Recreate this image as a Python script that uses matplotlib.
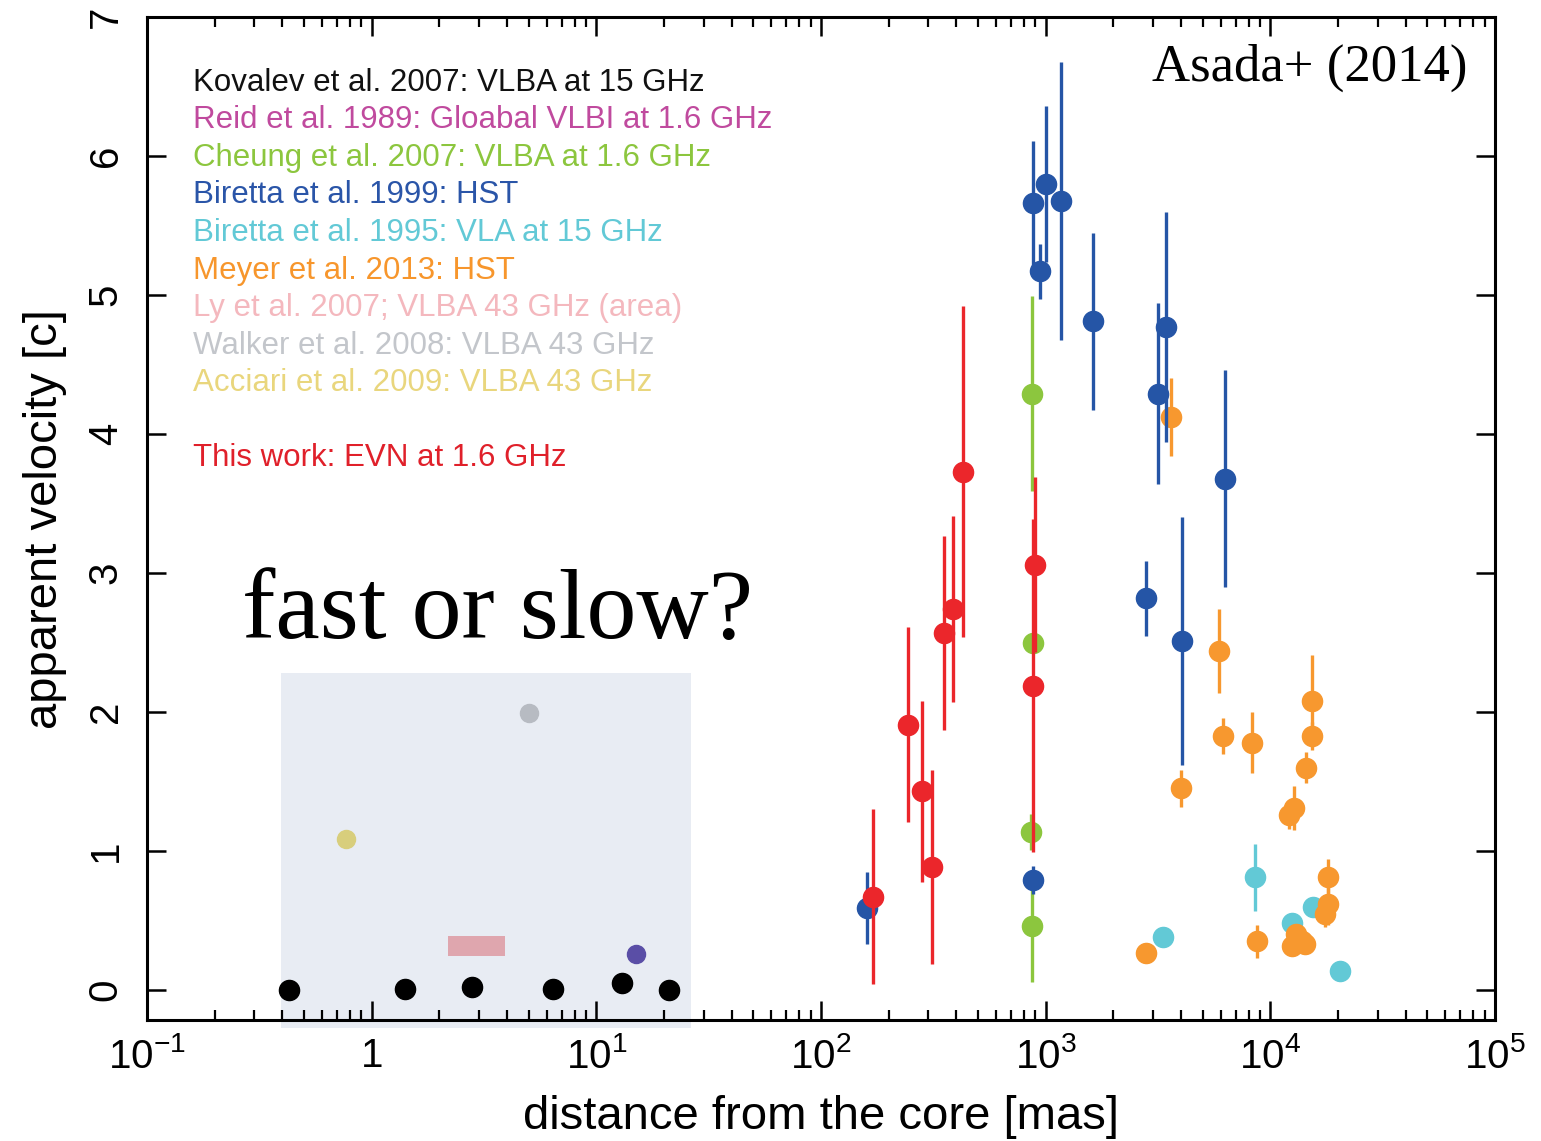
import matplotlib
matplotlib.use("Agg")
import matplotlib.pyplot as plt
from matplotlib.patches import Rectangle
from matplotlib.ticker import FixedLocator, FixedFormatter, LogLocator, NullFormatter

plt.rcParams['font.family'] = ['Liberation Sans', 'DejaVu Sans']
plt.rcParams['mathtext.default'] = 'regular'

# ---------------- data ----------------
# Kovalev et al. 2007 (VLBA 15 GHz)
kov_x = [0.43, 1.40, 2.79, 6.4, 13.0, 21.0]
kov_y = [0.00, 0.01, 0.02, 0.01, 0.05, 0.00]

# Reid et al. 1989
reid_x = [15.0]
reid_y = [0.26]
reid_err = [0.06]

# Walker et al. 2008
walker_x = [5.0]
walker_y = [1.99]

# Acciari et al. 2009
acciari_x = [0.77]
acciari_y = [1.09]

# Ly et al. 2007 (area): x range, y range
ly_x = [2.18, 3.91]
ly_y = [0.245, 0.39]

# Cheung et al. 2007 (VLBA 1.6 GHz)
cheung_x = [865, 880, 860, 870]
cheung_y = [4.29, 2.50, 1.14, 0.46]
cheung_err = [0.70, 0.05, 0.13, 0.40]

# Biretta et al. 1999 (HST)
b99_x = [160, 875, 1000, 1165, 940, 1617, 3420, 3150, 2785, 4025, 6310, 875]
b99_y = [0.59, 5.66, 5.80, 5.68, 5.17, 4.81, 4.77, 4.29, 2.82, 2.51, 3.68, 0.79]
b99_err = [0.26, 0.45, 0.56, 1.00, 0.20, 0.64, 0.83, 0.65, 0.27, 0.89, 0.78, 0.10]

# Biretta et al. 1995 (VLA 15 GHz)
b95_x = [3310, 8510, 12420, 15400, 20500]
b95_y = [0.38, 0.81, 0.48, 0.60, 0.14]
b95_err = [0.07, 0.24, 0.0, 0.0, 0.0]

# Meyer et al. 2013 (HST)
meyer_x = [3600, 5890, 4000, 6150, 8250, 15250, 15250, 14350, 12680, 12050,
           17960, 17960, 17500, 8690, 12500, 13000, 13800, 14200, 2785]
meyer_y = [4.12, 2.44, 1.45, 1.83, 1.78, 2.08, 1.83, 1.60, 1.31, 1.26,
           0.81, 0.62, 0.55, 0.35, 0.32, 0.40, 0.35, 0.33, 0.27]
meyer_err = [0.28, 0.30, 0.13, 0.13, 0.22, 0.33, 0.10, 0.11, 0.16, 0.10,
             0.13, 0.15, 0.10, 0.12, 0.05, 0.05, 0.05, 0.05, 0.0]

# This work: EVN at 1.6 GHz
evn_x = [171, 245, 280, 311, 351, 385, 427, 893, 880]
evn_y = [0.67, 1.91, 1.43, 0.885, 2.57, 2.74, 3.73, 3.06, 2.19]
evn_err = [0.63, 0.70, 0.65, 0.70, 0.70, 0.67, 1.19, 0.63, 1.20]

# shaded region
shade_x = [0.394, 26.3]
shade_y = [-0.27, 2.28]

legend_texts = [
    "Kovalev et al. 2007: VLBA at 15 GHz",
    "Reid et al. 1989: Gloabal VLBI at 1.6 GHz",
    "Cheung et al. 2007: VLBA at 1.6 GHz",
    "Biretta et al. 1999: HST",
    "Biretta et al. 1995: VLA at 15 GHz",
    "Meyer et al. 2013: HST",
    "Ly et al. 2007; VLBA 43 GHz (area)",
    "Walker et al. 2008: VLBA 43 GHz",
    "Acciari et al. 2009: VLBA 43 GHz",
]
legend_colors = ["#111111", "#c04a9e", "#8cc63e", "#2a55a8", "#62c9d6",
                 "#f7962c", "#f4b8be", "#c3c6cb", "#e9d67d"]

x_ticks = [0.1, 1, 10, 100, 1000, 10000, 100000]
x_ticklabels = ["$10^{-1}$", "1", "$10^{1}$", "$10^{2}$", "$10^{3}$", "$10^{4}$", "$10^{5}$"]
y_ticks = [0, 1, 2, 3, 4, 5, 6, 7]

# ---------------- figure ----------------
fig = plt.figure(figsize=(15.41, 11.41), dpi=100)
ax = fig.add_axes([0.0954, 0.106, 0.8748, 0.879])
ax.set_xscale('log')
ax.set_xlim(0.1, 1e5)
ax.set_ylim(-0.216, 7)

# shaded region
ax.add_patch(Rectangle((shade_x[0], shade_y[0]), shade_x[1] - shade_x[0],
                       shade_y[1] - shade_y[0], facecolor="#e8ecf3",
                       edgecolor="none", zorder=0.5, clip_on=False))

# Ly area
ax.add_patch(Rectangle((ly_x[0], ly_y[0]), ly_x[1] - ly_x[0], ly_y[1] - ly_y[0],
                       facecolor="#dfa6ae", edgecolor="none", zorder=2))

ms = 14.5
elw = 2.4

def series(x, y, err, color, z=3, size=ms):
    ax.errorbar(x, y, yerr=err, fmt='o', color=color, ecolor=color, ms=size,
                mec=color, elinewidth=elw, capsize=0, zorder=z)

ax.plot(kov_x, kov_y, 'o', color="#000000", ms=ms, zorder=3)
series(reid_x, reid_y, reid_err, "#5a4ea6", size=13)
ax.plot(walker_x, walker_y, 'o', color="#b7bbc2", ms=13, zorder=3)
ax.plot(acciari_x, acciari_y, 'o', color="#d8ce7c", ms=13, zorder=3)
series(cheung_x, cheung_y, cheung_err, "#8cc63e", z=3)
series(b95_x, b95_y, b95_err, "#62c9d6", z=3)
series(meyer_x, meyer_y, meyer_err, "#f7982f", z=3)
series(b99_x, b99_y, b99_err, "#2555a6", z=4)
series(evn_x, evn_y, evn_err, "#eb262b", z=5)

# axes styling
for sp in ax.spines.values():
    sp.set_linewidth(2.2)
    sp.set_zorder(6)

ax.xaxis.set_major_locator(FixedLocator(x_ticks))
ax.xaxis.set_major_formatter(FixedFormatter(x_ticklabels))
ax.xaxis.set_minor_locator(LogLocator(base=10, subs=range(2, 10), numticks=20))
ax.xaxis.set_minor_formatter(NullFormatter())
ax.set_yticks(y_ticks)
ax.tick_params(axis='x', which='major', direction='in', length=14, width=1.8,
               top=True, labelsize=29, pad=12)
ax.tick_params(axis='x', which='minor', direction='in', length=7, width=1.6,
               top=True)
ax.tick_params(axis='y', which='major', direction='in', length=14, width=1.8,
               right=True, labelsize=29, pad=16)
for lab in ax.get_yticklabels():
    lab.set_rotation(90)
    lab.set_va('center')

ax.set_xlabel("distance from the core [mas]", fontsize=34, labelpad=14)
ax.set_ylabel("apparent velocity [c]", fontsize=34, labelpad=14)

# legend text block
x0 = 193 / 1541
for i, (t, c) in enumerate(zip(legend_texts, legend_colors)):
    fig.text(x0, 1 - (83 + 37.5 * i) / 1141, t, color=c, fontsize=22.5,
             va='center', ha='left')
fig.text(x0, 1 - 458 / 1141, "This work: EVN at 1.6 GHz", color="#e0202a",
         fontsize=22.5, va='center', ha='left')

# annotations
fig.text(1152 / 1541, 1 - 68 / 1141, "Asada+ (2014)", fontsize=38,
         family=['Liberation Serif', 'DejaVu Serif'], va='center', ha='left')
fig.text(242 / 1541, 1 - 638 / 1141, "fast or slow?", fontsize=72,
         family=['Liberation Serif', 'DejaVu Serif'], va='baseline', ha='left')

fig.savefig("out.png", dpi=100)
